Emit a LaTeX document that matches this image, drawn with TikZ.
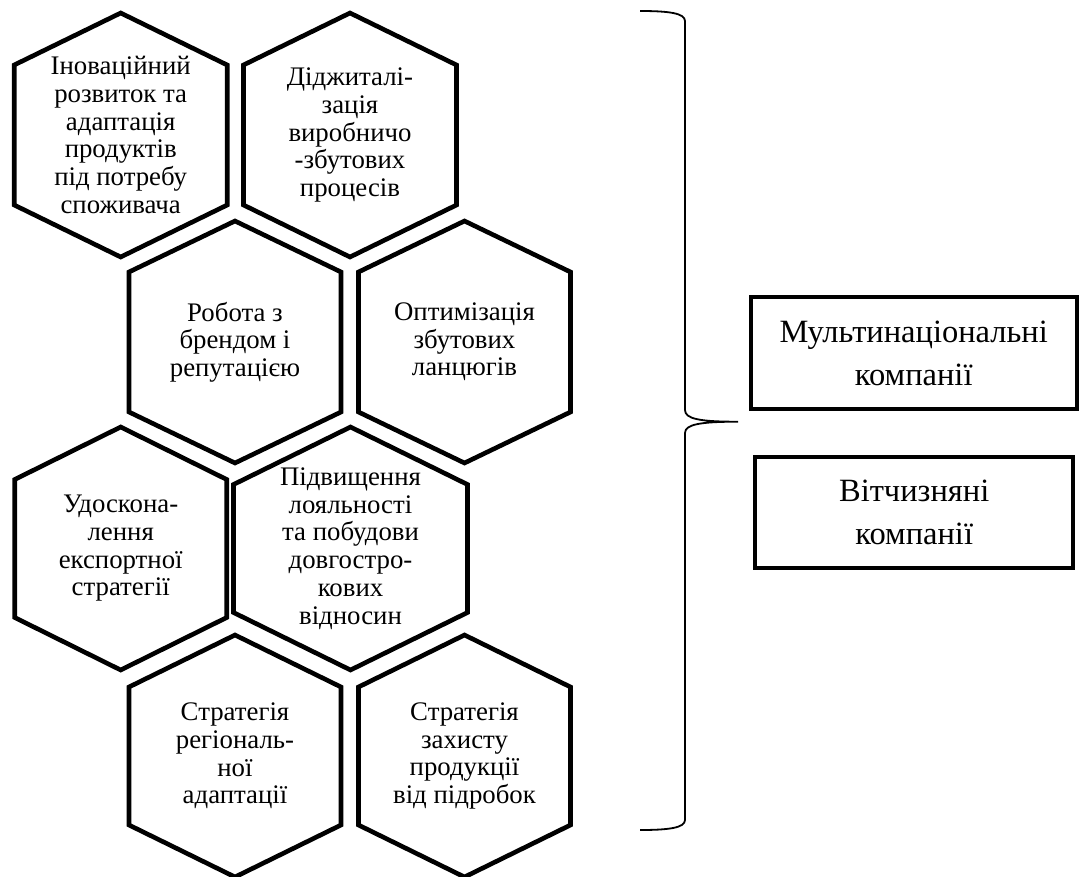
\documentclass[tikz,border=0pt]{standalone}
\usepackage{fontspec}
\setmainfont{Liberation Serif}
\tikzset{
  hexline/.style={line width=4.6pt, line join=miter, draw=black},
  hextext/.style={align=center, inner sep=0pt, font=\fontsize{26.8}{27.7}\selectfont},
  groupbox/.style={draw=black, line width=4pt, align=center, inner sep=0pt,
    font=\fontsize{32.5}{43}\selectfont},
  braceline/.style={line width=1.8pt, draw=black}
}
% \hexcell{name}{cx}{cy}{half width}{side offset}{half height}{text}
\newcommand\hexcell[7]{%
  \draw[hexline] (#2,#3-#6) -- (#2+#4,#3-#5) -- (#2+#4,#3+#5) -- (#2,#3+#6)
    -- (#2-#4,#3+#5) -- (#2-#4,#3-#5) -- cycle;
  \node[hextext] (#1) at (#2,#3) {#7};
}
\begin{document}
\begin{tikzpicture}[x=1pt,y=-1pt]
\useasboundingbox (0,0) rectangle (1079,876);

% honeycomb of measures
\hexcell{innov}{120.7}{135}{106.5}{70}{122}{Іноваційний\\розвиток та\\адаптація\\продуктів\\під потребу\\споживача}
\hexcell{digit}{350}{135}{106.5}{70}{122}{Діджиталі-\\зація\\виробничо\\-збутових\\процесів}
\hexcell{brand}{235}{342}{106}{70}{121}{Робота з\\брендом і\\репутацією}
\hexcell{chain}{464.5}{342}{106}{70}{121}{Оптимізація\\збутових\\ланцюгів}
\hexcell{export}{120.7}{548.5}{106}{69}{121.5}{Удоскона-\\лення\\експортної\\стратегії}
\hexcell{loyal}{350.5}{548.5}{117}{64}{121.5}{Підвищення\\лояльності\\та побудови\\довгостро-\\кових\\відносин}
\hexcell{region}{235}{756}{106}{69}{121}{Стратегія\\регіональ-\\ної\\адаптації}
\hexcell{fake}{464.5}{756}{106}{69}{121}{Стратегія\\захисту\\продукції\\від підробок}

% right-hand brace
\coordinate (tip) at (738,421.7);
\draw[braceline] (640,11) .. controls (668,11) and (685,13) .. (685,21)
  -- (685,410) .. controls (685,419) and (700,421.7) .. (tip)
  .. controls (700,421.7) and (685,424.4) .. (685,433)
  -- (685,820) .. controls (685,828) and (668,830) .. (640,830);

% company groups
\node[groupbox, minimum width=326, minimum height=111.7] (multi) at (913.7,353)
  {Мультинаціональні\\компанії};
\node[groupbox, minimum width=318.3, minimum height=110.9] (dom) at (914.2,512.2)
  {Вітчизняні\\компанії};
\end{tikzpicture}
\end{document}
